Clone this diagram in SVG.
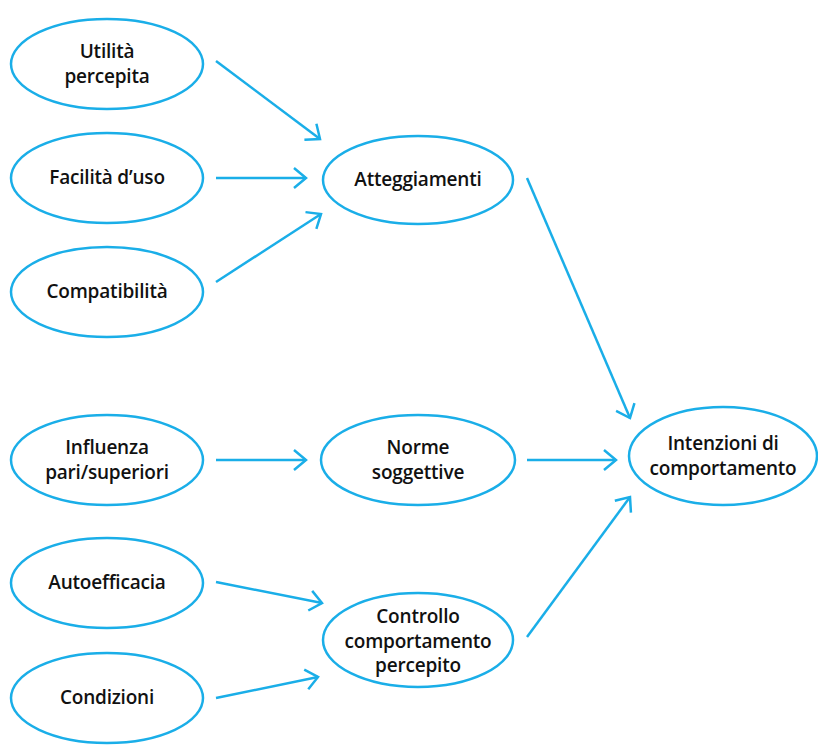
<svg xmlns="http://www.w3.org/2000/svg" width="818" height="745" viewBox="0 0 818 745">
<style>
.n ellipse{fill:#fff;stroke:#1aaee8;stroke-width:2.5}
.n text{font-family:"Open Sans","Liberation Sans",sans-serif;font-size:19px;font-weight:600;fill:#111;text-anchor:middle;letter-spacing:-0.2px}
.c line{stroke:#1aaee8;stroke-width:2.5;fill:none;marker-end:url(#ah)}
</style>
<defs>
<marker id="ah" markerUnits="userSpaceOnUse" markerWidth="20" markerHeight="26" refX="15" refY="13" orient="auto" viewBox="0 0 20 26">
<path d="M3,3 L15,13 L3,23" fill="none" stroke="#1aaee8" stroke-width="2.5"/>
</marker>
</defs>
<rect width="818" height="745" fill="#fff"/>
<g class="c">
<line x1="216" y1="61" x2="320" y2="139"/>
<line x1="216" y1="178" x2="306" y2="178"/>
<line x1="216" y1="282" x2="321" y2="214"/>
<line x1="527" y1="178" x2="630" y2="418"/>
<line x1="216" y1="460" x2="306" y2="460"/>
<line x1="527" y1="460" x2="616" y2="460"/>
<line x1="527" y1="637" x2="630" y2="497"/>
<line x1="216" y1="582" x2="322" y2="603"/>
<line x1="216" y1="698" x2="318" y2="677"/>
</g>
<g class="n" id="utilita"><ellipse cx="107" cy="64" rx="96" ry="45"/><text x="107" y="58">Utilità</text><text x="107" y="83">percepita</text></g>
<g class="n" id="facilita"><ellipse cx="107" cy="178" rx="96" ry="45"/><text x="107" y="184">Facilità d’uso</text></g>
<g class="n" id="compatibilita"><ellipse cx="107" cy="292" rx="96" ry="45"/><text x="107" y="298">Compatibilità</text></g>
<g class="n" id="influenza"><ellipse cx="107" cy="460" rx="96" ry="45"/><text x="107" y="454">Influenza</text><text x="107" y="479">pari/superiori</text></g>
<g class="n" id="autoefficacia"><ellipse cx="107" cy="583" rx="96" ry="45"/><text x="107" y="589">Autoefficacia</text></g>
<g class="n" id="condizioni"><ellipse cx="107" cy="698" rx="96" ry="45"/><text x="107" y="704">Condizioni</text></g>
<g class="n" id="atteggiamenti"><ellipse cx="418" cy="180" rx="95" ry="44"/><text x="418" y="186">Atteggiamenti</text></g>
<g class="n" id="norme"><ellipse cx="418" cy="460" rx="97" ry="45"/><text x="418" y="454">Norme</text><text x="418" y="479">soggettive</text></g>
<g class="n" id="controllo"><ellipse cx="418" cy="640" rx="95" ry="47"/><text x="418" y="623">Controllo</text><text x="418" y="648">comportamento</text><text x="418" y="672">percepito</text></g>
<g class="n" id="intenzioni"><ellipse cx="723" cy="456" rx="94" ry="49"/><text x="723" y="450">Intenzioni di</text><text x="723" y="475">comportamento</text></g>
</svg>
